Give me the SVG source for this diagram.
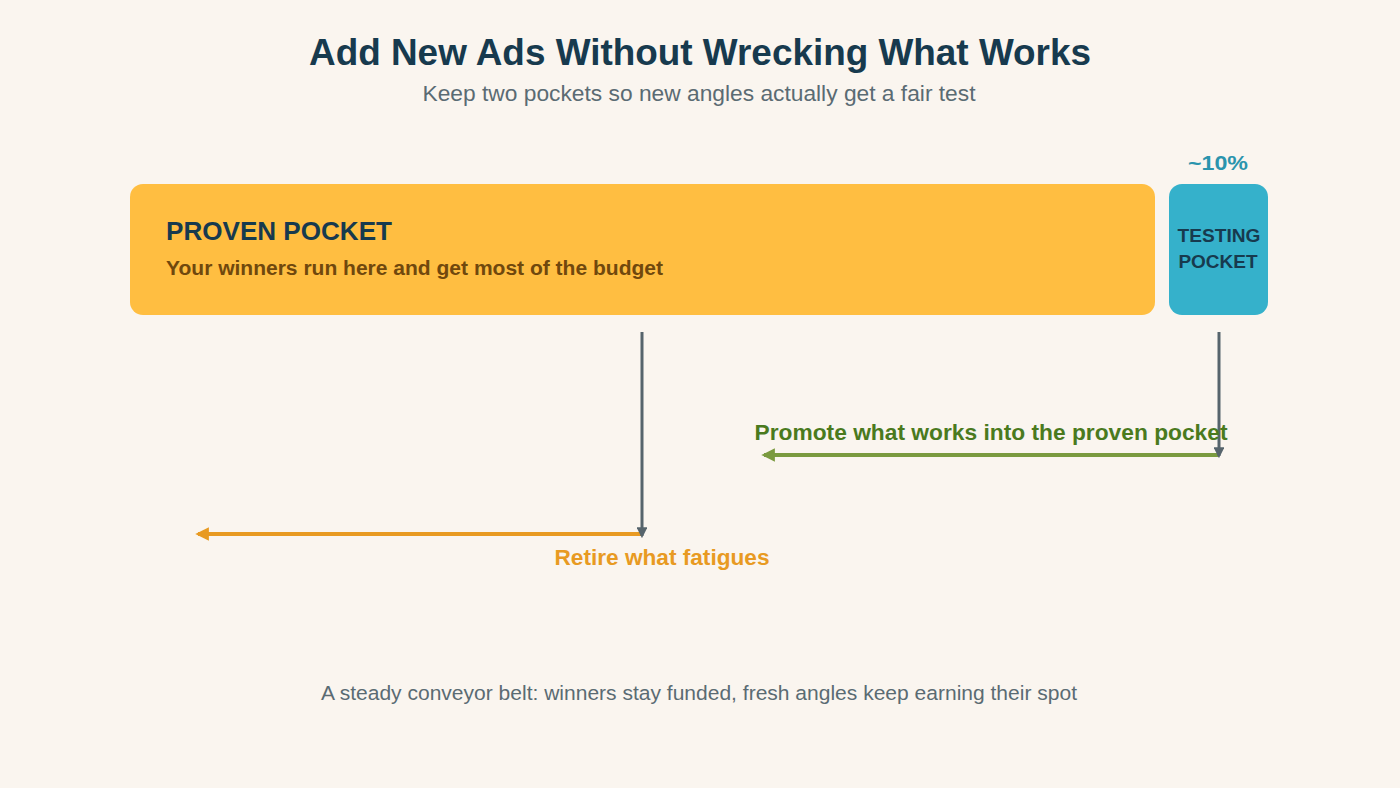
<svg xmlns="http://www.w3.org/2000/svg" width="1400" height="788" viewBox="0 0 1400 788">
<defs>
<style>
text{font-family:"Liberation Sans",Arial,sans-serif}
.b{font-weight:bold}
</style>
<marker id="mg" viewBox="0 0 10 10" refX="8" refY="5" markerWidth="3.6" markerHeight="3.6" orient="auto"><path d="M0,0L10,5L0,10z" fill="#56646c"/></marker>
<marker id="mgr" viewBox="0 0 10 10" refX="8" refY="5" markerWidth="3.4" markerHeight="3.4" orient="auto"><path d="M0,0L10,5L0,10z" fill="#7a9a3f"/></marker>
<marker id="mo" viewBox="0 0 10 10" refX="8" refY="5" markerWidth="3.4" markerHeight="3.4" orient="auto"><path d="M0,0L10,5L0,10z" fill="#e89a22"/></marker>
</defs>
<rect width="1400" height="788" fill="#faf5ef"/>
<text x="700" y="65" text-anchor="middle" class="b" font-size="37" fill="#173a4e" textLength="782" lengthAdjust="spacingAndGlyphs">Add New Ads Without Wrecking What Works</text>
<text x="699" y="101" text-anchor="middle" font-size="21.5" fill="#5a6b73" textLength="553" lengthAdjust="spacingAndGlyphs">Keep two pockets so new angles actually get a fair test</text>
<g id="proven">
<rect x="130" y="184" width="1025" height="131" rx="13" fill="#ffbe41"/>
<text x="166" y="240" class="b" font-size="25" fill="#173a4e" textLength="226" lengthAdjust="spacingAndGlyphs">PROVEN POCKET</text>
<text x="166" y="275" class="b" font-size="19.5" fill="#70480d" textLength="497" lengthAdjust="spacingAndGlyphs">Your winners run here and get most of the budget</text>
</g>
<g id="testing">
<text x="1218" y="170" text-anchor="middle" class="b" font-size="21" fill="#2a94ad" textLength="60" lengthAdjust="spacingAndGlyphs">~10%</text>
<rect x="1169" y="184" width="99" height="131" rx="13" fill="#35b1cb"/>
<text x="1219" y="242" text-anchor="middle" class="b" font-size="19" fill="#173a4e" textLength="83" lengthAdjust="spacingAndGlyphs">TESTING</text>
<text x="1218" y="268" text-anchor="middle" class="b" font-size="19" fill="#173a4e">POCKET</text>
</g>
<g id="connectors">
<line x1="1219" y1="455" x2="764" y2="455" stroke="#7a9a3f" stroke-width="4" marker-end="url(#mgr)"/>
<line x1="642" y1="534" x2="198" y2="534" stroke="#e89a22" stroke-width="4" marker-end="url(#mo)"/>
<line x1="642" y1="332" x2="642" y2="536" stroke="#56646c" stroke-width="3" marker-end="url(#mg)"/>
<line x1="1219" y1="332" x2="1219" y2="456" stroke="#56646c" stroke-width="3" marker-end="url(#mg)"/>
<text x="991" y="440" text-anchor="middle" class="b" font-size="21.5" fill="#4a7a1e" textLength="473" lengthAdjust="spacingAndGlyphs">Promote what works into the proven pocket</text>
<text x="662" y="565" text-anchor="middle" class="b" font-size="21.5" fill="#e89a22" textLength="215" lengthAdjust="spacingAndGlyphs">Retire what fatigues</text>
</g>
<text x="699" y="700" text-anchor="middle" font-size="20.5" fill="#5a6b73" textLength="756" lengthAdjust="spacingAndGlyphs">A steady conveyor belt: winners stay funded, fresh angles keep earning their spot</text>
</svg>
